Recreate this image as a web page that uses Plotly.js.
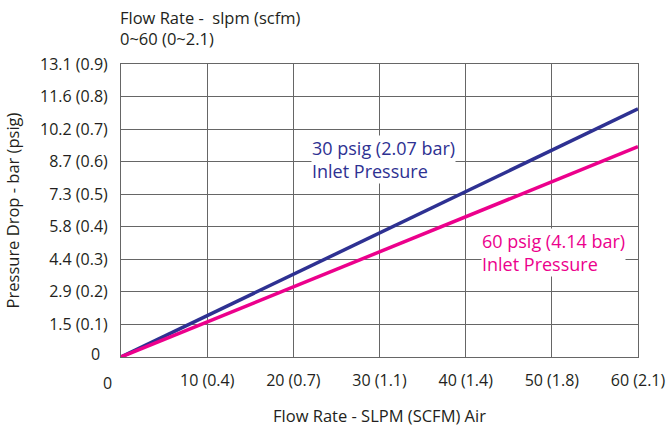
<!DOCTYPE html>
<html>
<head>
<meta charset="utf-8">
<script src="https://cdn.plot.ly/plotly-3.0.1.min.js"></script>
<style>html,body{margin:0;padding:0;background:#fff;}#chart{width:670px;height:427px;}</style>
</head>
<body>
<div id="chart"></div>
<script>
// Flow rate (SLPM)
const flowSLPM = [0, 10, 20, 30, 40, 50, 60];
// Pressure drop (psig)
const drop30psig = [0, 0.127, 0.254, 0.381, 0.508, 0.635, 0.762];
const drop60psig = [0, 0.108, 0.215, 0.323, 0.431, 0.538, 0.646];

const xTickVals = [10, 20, 30, 40, 50, 60];
const xTickText = ['10 (0.4)', '20 (0.7)', '30 (1.1)', '40 (1.4)', '50 (1.8)', '60 (2.1)'];
const yTickVals = [0.1, 0.2, 0.3, 0.4, 0.5, 0.6, 0.7, 0.8, 0.9];
const yTickText = ['1.5 (0.1)', '2.9 (0.2)', '4.4 (0.3)', '5.8 (0.4)', '7.3 (0.5)', '8.7 (0.6)', '10.2 (0.7)', '11.6 (0.8)', '13.1 (0.9)'];

const FONT = 'Open Sans, Noto Sans, sans-serif';
const BLUE = '#2e3192';
const PINK = '#ec008c';
const TXT = '#231f20';

const traces = [
  {x: flowSLPM, y: drop30psig, mode: 'lines', line: {color: BLUE, width: 3.5}, hoverinfo: 'skip'},
  {x: flowSLPM, y: drop60psig, mode: 'lines', line: {color: PINK, width: 3.5}, hoverinfo: 'skip'}
];

function lbl(text, x, y, color) {
  return {text: text, x: x, y: y, xref: 'x', yref: 'y', xanchor: 'left', yanchor: 'middle', align: 'left',
    showarrow: false, bgcolor: '#ffffff', borderpad: 0, font: {family: FONT, size: 18, color: color}};
}

const layout = {
  width: 670, height: 427,
  margin: {l: 121, r: 32, t: 64, b: 70},
  paper_bgcolor: '#fff', plot_bgcolor: '#fff',
  showlegend: false,
  font: {family: FONT, size: 16, color: TXT},
  xaxis: {
    range: [0, 60], tickmode: 'array', tickvals: xTickVals, ticktext: xTickText,
    showgrid: true, gridcolor: '#666', gridwidth: 1, zeroline: false,
    showline: true, linecolor: '#666', linewidth: 1, mirror: true,
    ticks: '', ticklabelstandoff: 9,
    tickfont: {family: FONT, size: 16, color: TXT},
    title: {text: 'Flow Rate - SLPM (SCFM) Air', font: {family: FONT, size: 16.5, color: TXT}, standoff: 22}
  },
  yaxis: {
    range: [0, 0.9], tickmode: 'array', tickvals: yTickVals, ticktext: yTickText,
    showgrid: true, gridcolor: '#666', gridwidth: 1, zeroline: false,
    showline: true, linecolor: '#666', linewidth: 1, mirror: true,
    ticks: '', ticklabelstandoff: 9,
    tickfont: {family: FONT, size: 16, color: TXT},
    title: {text: 'Pressure Drop - bar (psig)', font: {family: FONT, size: 16.5, color: TXT}, standoff: 16}
  },
  annotations: [
    {text: 'Flow Rate -\u00a0\u00a0slpm (scfm)<br>0~60 (0~2.1)', xref: 'paper', yref: 'paper', x: 0, y: 1,
     xanchor: 'left', yanchor: 'bottom', yshift: 12, xshift: -3, align: 'left', showarrow: false,
     font: {family: FONT, size: 16.5, color: TXT}},
    {text: '0', xref: 'paper', yref: 'paper', x: 0, y: 0, xanchor: 'center', yanchor: 'top',
     xshift: -14, yshift: -13, showarrow: false, font: {family: FONT, size: 16, color: TXT}},
    {text: '0', xref: 'paper', yref: 'paper', x: 0, y: 0, xanchor: 'right', yanchor: 'middle',
     xshift: -19, yshift: 3, showarrow: false, font: {family: FONT, size: 16, color: TXT}},
    lbl('30 psig (2.07 bar)<br>Inlet Pressure', 22.05, 0.6055, BLUE),
    lbl('60 psig (4.14 bar)<br>Inlet Pressure', 41.78, 0.322, PINK)
  ]
};

Plotly.newPlot('chart', traces, layout, {staticPlot: true, displayModeBar: false});
</script>
</body>
</html>
